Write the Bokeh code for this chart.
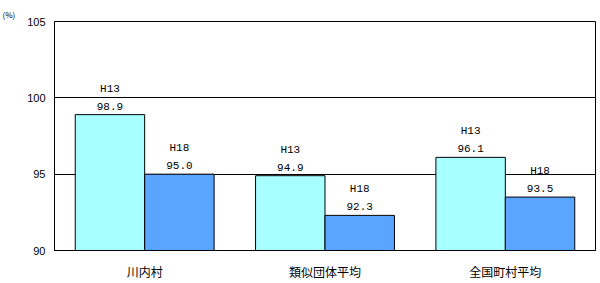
from bokeh.plotting import figure
from bokeh.models import ColumnDataSource, FactorRange, Range1d
from bokeh.transform import dodge
from bokeh.core.properties import value
from bokeh.embed import file_html
from bokeh.resources import INLINE

categories = ["川内村", "類似団体平均", "全国町村平均"]
h13 = [98.9, 94.9, 96.1]
h18 = [95.0, 92.3, 93.5]
series_names = ["H13", "H18"]
y_ticks = [90, 95, 100, 105]

src = ColumnDataSource(dict(
    cat=categories, h13=h13, h18=h18,
    h13_lbl=[f"{v:.1f}" for v in h13], h18_lbl=[f"{v:.1f}" for v in h18],
    n13=[series_names[0]] * 3, n18=[series_names[1]] * 3,
))

p = figure(width=600, height=283, x_range=FactorRange(*categories, range_padding=0),
           y_range=Range1d(90, 105), output_backend="svg", toolbar_location=None,
           min_border_left=54, min_border_right=5, min_border_top=21, min_border_bottom=33,
           title="(%)")
p.title.align = "left"
p.title.offset = -52
p.title.text_font = "Noto Sans CJK JP"
p.title.text_font_size = "8px"
p.title.text_font_style = "normal"
p.title.text_color = "black"
p.title.standoff = 3
p.outline_line_color = "black"
p.outline_line_width = 1
p.background_fill_color = "white"
p.border_fill_color = "white"

bw = 0.385
p.vbar(x=dodge("cat", -bw / 2, range=p.x_range), top="h13", bottom=90, width=bw, source=src,
       fill_color="#A8FFFF", line_color="black", line_width=1)
p.vbar(x=dodge("cat", bw / 2, range=p.x_range), top="h18", bottom=90, width=bw, source=src,
       fill_color="#5AA5FF", line_color="black", line_width=1)

font = value("Liberation Mono")
for off, top, lbl, nm in [(-bw / 2, "h13", "h13_lbl", "n13"), (bw / 2, "h18", "h18_lbl", "n18")]:
    p.text(x=dodge("cat", off, range=p.x_range), y=top, text=lbl, source=src, y_offset=-5,
           text_align="center", text_baseline="bottom", text_font=font, text_font_size="11px",
           text_color="black")
    p.text(x=dodge("cat", off, range=p.x_range), y=top, text=nm, source=src, y_offset=-20,
           text_align="center", text_baseline="bottom", text_font=font, text_font_size="11px",
           text_color="black")

p.yaxis.ticker = y_ticks
p.yaxis.major_tick_line_color = None
p.yaxis.major_tick_out = 0
p.yaxis.major_tick_in = 0
p.yaxis.minor_tick_line_color = None
p.yaxis.axis_line_color = "black"
p.yaxis.major_label_text_font = "Liberation Sans"
p.yaxis.major_label_text_font_size = "11px"
p.yaxis.major_label_text_color = "black"
p.yaxis.major_label_standoff = 9

p.xaxis.major_tick_line_color = None
p.xaxis.major_tick_out = 0
p.xaxis.major_tick_in = 0
p.xaxis.axis_line_color = "black"
p.xaxis.major_label_text_font = "Noto Sans CJK JP"
p.xaxis.major_label_text_font_size = "12px"
p.xaxis.major_label_text_color = "black"
p.xaxis.major_label_standoff = 12

p.xgrid.grid_line_color = None
p.ygrid.grid_line_color = "black"
p.ygrid.grid_line_width = 1

open("out.html", "w").write(file_html(p, INLINE))
